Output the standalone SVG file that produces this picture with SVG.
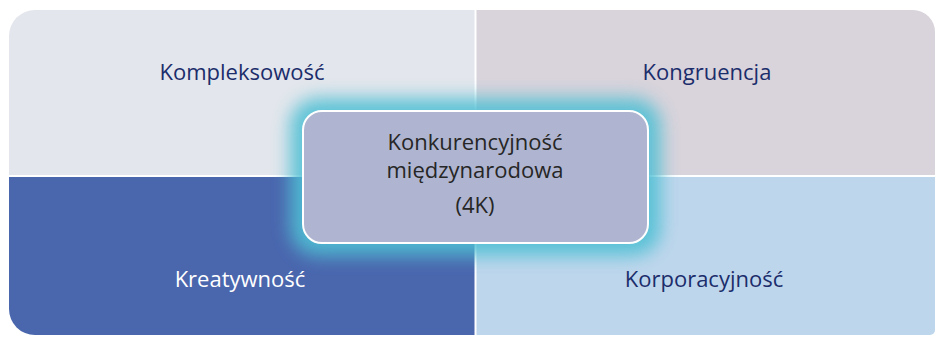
<svg xmlns="http://www.w3.org/2000/svg" width="935" height="337" viewBox="0 0 935 337">
  <defs>
    <filter id="glow" x="-30%" y="-50%" width="160%" height="200%">
      <feGaussianBlur stdDeviation="9"/>
    </filter>
    <style>
      .lbl { font-family: "Open Sans", "Noto Sans", "DejaVu Sans", sans-serif; font-size: 22px; text-anchor: middle; }
      .dark { fill: #1B2D6B; }
      .light { fill: #FFFFFF; }
      .core { fill: #262626; }
    </style>
  </defs>
  <rect width="935" height="337" fill="#FFFFFF"/>

  <!-- quadrants -->
  <g id="kompleksowosc">
    <path d="M9,36 A26,26 0 0 1 35,10 H474.5 V175 H9 Z" fill="#E3E6EC"/>
    <text class="lbl dark" x="242" y="80">Kompleksowość</text>
  </g>
  <g id="kongruencja">
    <path d="M476.5,10 H913 A22,22 0 0 1 935,32 V175 H476.5 Z" fill="#D9D3DB"/>
    <text class="lbl dark" x="707" y="80">Kongruencja</text>
  </g>
  <g id="kreatywnosc">
    <path d="M9,177 H474.5 V335 H35 A26,26 0 0 1 9,309 Z" fill="#4A66AD"/>
    <text class="lbl light" x="240" y="287">Kreatywność</text>
  </g>
  <g id="korporacyjnosc">
    <path d="M476.5,177 H935 V330 A5,5 0 0 1 930,335 H476.5 Z" fill="#BED6EC"/>
    <text class="lbl dark" x="704" y="287">Korporacyjność</text>
  </g>

  <!-- central node with glow -->
  <g id="konkurencyjnosc">
    <rect x="290" y="98" width="371" height="158" rx="28" fill="#4FC0D4" opacity="0.9" filter="url(#glow)"/>
    <rect x="303" y="111" width="345" height="132" rx="19" fill="#AFB5D0" stroke="#FFFFFF" stroke-width="2"/>
    <text class="lbl core" x="475" y="150">Konkurencyjność</text>
    <text class="lbl core" x="475" y="178">międzynarodowa</text>
    <text class="lbl core" x="475" y="213">(4K)</text>
  </g>

  <g id="connectors"/>
</svg>
